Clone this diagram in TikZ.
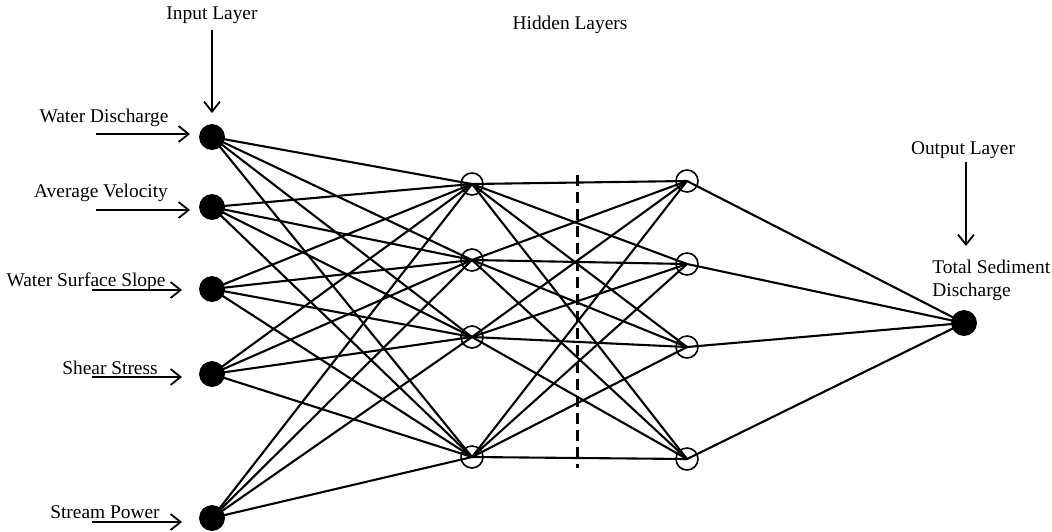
\documentclass[tikz,border=0pt]{standalone}
\usepackage{fontspec}
\setmainfont{Liberation Serif}
\usetikzlibrary{arrows.meta}
\begin{document}
\begin{tikzpicture}[x=0.5pt,y=-0.5pt,
  inp/.style={circle,fill=black,draw=black,minimum size=12.5pt,inner sep=0pt},
  hid/.style={circle,draw=black,line width=0.8pt,minimum size=11pt,inner sep=0pt},
  edge/.style={line width=1.05pt},
  arr/.style={line width=0.9pt,-{Straight Barb[length=5pt,width=8pt]}},
  lbl/.style={font=\fontsize{9.7}{11.5}\selectfont,inner sep=0pt}]
\useasboundingbox (0,0) rectangle (1052,531);
% nodes
\node[inp] (i1) at (212,137) {};
\node[inp] (i2) at (212,207) {};
\node[inp] (i3) at (212,289) {};
\node[inp] (i4) at (212,374) {};
\node[inp] (i5) at (212,518) {};
\node[hid] (h1) at (472,184) {};
\node[hid] (h2) at (472,260) {};
\node[hid] (h3) at (472,337) {};
\node[hid] (h4) at (472,457) {};
\node[hid] (g1) at (687,181) {};
\node[hid] (g2) at (687,264) {};
\node[hid] (g3) at (687,347) {};
\node[hid] (g4) at (687,459) {};
\node[inp] (o) at (964,323) {};
% edges
\foreach \a in {i1,i2,i3,i4,i5}{\foreach \b in {h1,h2,h3,h4}{\draw[edge] (\a.center) -- (\b.center);}}
\foreach \a in {h1,h2,h3,h4}{\foreach \b in {g1,g2,g3,g4}{\draw[edge] (\a.center) -- (\b.center);}}
\foreach \a in {g1,g2,g3,g4}{\draw[edge] (\a.center) -- (o.center);}
% dashed divider
\coordinate (d1) at (577,175);
\coordinate (d2) at (577,468);
\draw[line width=1.5pt,dash pattern=on 5.5pt off 3pt] (d1) -- (d2);
% layer labels
\node[lbl] (tin) at (212,15) {Input Layer};
\coordinate (tinA) at (212,30);
\coordinate (tinB) at (212,113);
\draw[arr] (tinA) -- (tinB);
\node[lbl] (thid) at (570,25) {Hidden Layers};
\node[lbl] (tout) at (963,150) {Output Layer};
\coordinate (toutA) at (966,162);
\coordinate (toutB) at (966,246);
\draw[arr] (toutA) -- (toutB);
\node[lbl,anchor=west,align=left] (tsd) at (932,280) {Total Sediment\\Discharge};
% input labels
\node[lbl] (l1) at (104,118) {Water Discharge};
\coordinate (a1s) at (96,134); \coordinate (a1e) at (190,134);
\draw[arr] (a1s) -- (a1e);
\node[lbl] (l2) at (101,193) {Average Velocity};
\coordinate (a2s) at (96,210); \coordinate (a2e) at (190,210);
\draw[arr] (a2s) -- (a2e);
\node[lbl] (l3) at (86,282) {Water Surface Slope};
\coordinate (a3s) at (92,290); \coordinate (a3e) at (182,290);
\draw[arr] (a3s) -- (a3e);
\node[lbl] (l4) at (110,368) {Shear Stress};
\coordinate (a4s) at (92,377); \coordinate (a4e) at (182,377);
\draw[arr] (a4s) -- (a4e);
\node[lbl] (l5) at (105,512) {Stream Power};
\coordinate (a5s) at (92,522); \coordinate (a5e) at (182,522);
\draw[arr] (a5s) -- (a5e);
\end{tikzpicture}
\end{document}
